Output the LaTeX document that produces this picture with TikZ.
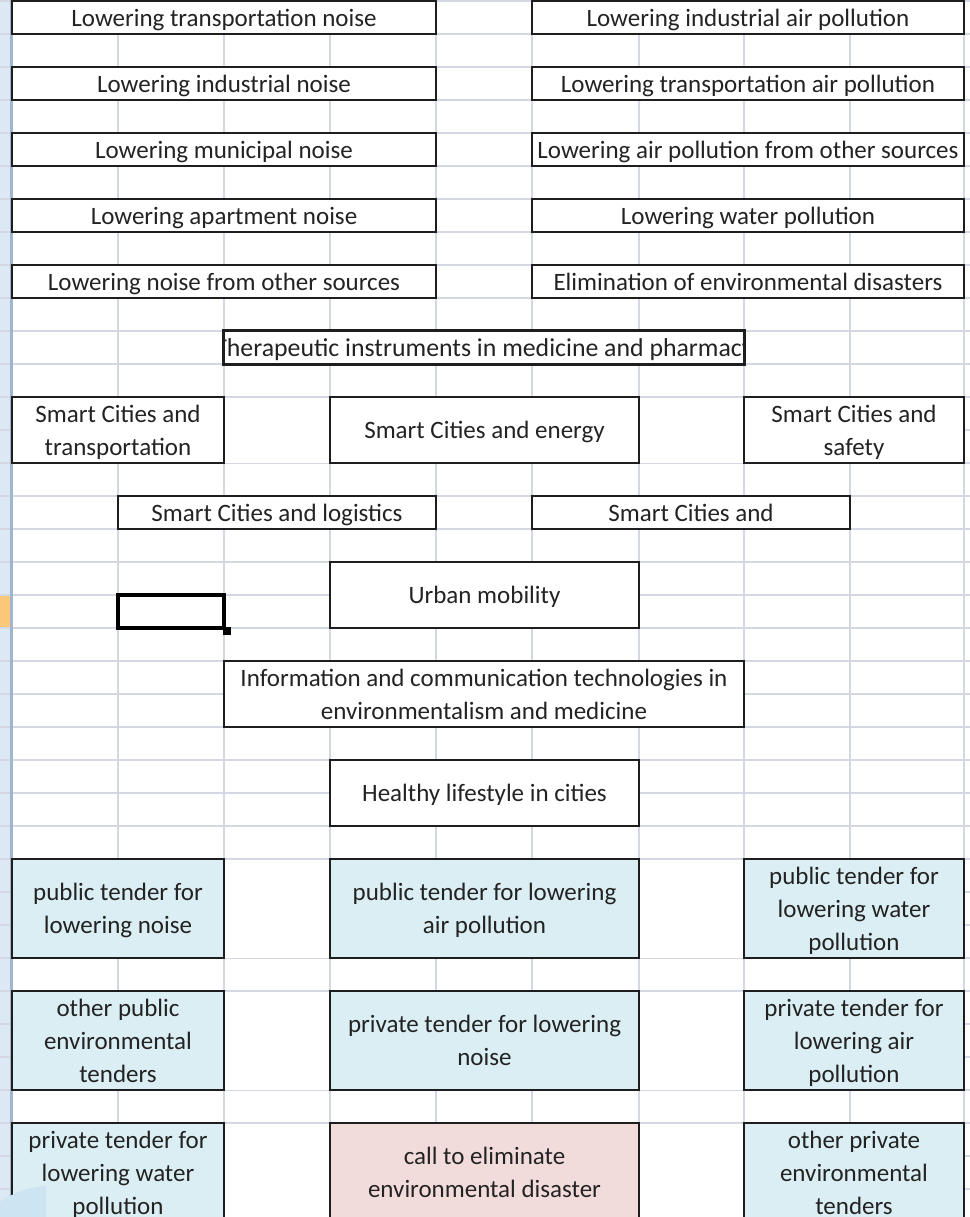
\documentclass[tikz,border=0pt]{standalone}
\usepackage{fontspec}
\setmainfont{Carlito}
\usetikzlibrary{positioning}

\definecolor{gridc}{RGB}{212,216,226}
\definecolor{headc}{RGB}{221,232,245}
\definecolor{headline}{RGB}{158,182,206}
\definecolor{selrow}{RGB}{249,200,120}
\definecolor{edgec}{RGB}{30,30,30}
\definecolor{textc}{RGB}{35,35,35}
\definecolor{tenderc}{RGB}{218,238,243}
\definecolor{callc}{RGB}{242,220,219}
\definecolor{blobc}{RGB}{205,228,243}
\newcommand{\cellfont}{\fontsize{12.5}{16.5}\selectfont}

\begin{document}
\begin{tikzpicture}[x=0.5pt,y=-0.5pt,
    gridline/.style={draw=gridc,line width=0.6pt},
    box/.style={draw=edgec,line width=1pt,fill=white,inner sep=0pt,text depth=0pt,
                align=center,text=textc,font=\cellfont},
    tender/.style={box,fill=tenderc},
    callbox/.style={box,fill=callc},
    selcell/.style={draw=black,line width=2pt,inner sep=0pt}]

    \clip (0,0) rectangle (970,1217);
    \fill[white] (0,0) rectangle (970,1217);

    %row headers at the left
    \fill[headc] (0,0) rectangle (11,1217);
    \fill[selrow] (0,595) rectangle (11,628);

    %sheet grid
    \foreach \cx in {12,118,224,330,436,532,639,744,850,964}
        \draw[gridline] (\cx,0) -- (\cx,1217);
    \foreach \k in {0,...,36}
        \draw[gridline] (0,{1+33*\k}) -- (970,{1+33*\k});
    \draw[headline,line width=1.5pt] (11.5,0) -- (11.5,1217);

    %merged empty cells
    \foreach \ya/\yb in {397/463,859/958,991/1090,1123/1222}{
        \fill[white] (224.5,\ya+0.5) rectangle (329.5,\yb-0.5);
        \fill[white] (639.5,\ya+0.5) rectangle (743.5,\yb-0.5);
    }

    %noise and pollution
    \node[box,minimum width=212pt,minimum height=16.5pt] (noiseT) at (224,17.5) {Lowering transportation noise};
    \node[box,minimum width=216pt,minimum height=16.5pt] (airI) at (748,17.5) {Lowering industrial air pollution};
    \node[box,minimum width=212pt,minimum height=16.5pt] (noiseI) at (224,83.5) {Lowering industrial noise};
    \node[box,minimum width=216pt,minimum height=16.5pt] (airT) at (748,83.5) {Lowering transportation air pollution};
    \node[box,minimum width=212pt,minimum height=16.5pt] (noiseM) at (224,149.5) {Lowering municipal noise};
    \node[box,minimum width=216pt,minimum height=16.5pt] (airO) at (748,149.5) {Lowering air pollution from other sources};
    \node[box,minimum width=212pt,minimum height=16.5pt] (noiseA) at (224,215.5) {Lowering apartment noise};
    \node[box,minimum width=216pt,minimum height=16.5pt] (water) at (748,215.5) {Lowering water pollution};
    \node[box,minimum width=212pt,minimum height=16.5pt] (noiseO) at (224,281.5) {Lowering noise from other sources};
    \node[box,minimum width=216pt,minimum height=16.5pt] (disaster) at (748,281.5) {Elimination of environmental disasters};

    %text cut off by the cell
    \node[box,minimum width=260pt,minimum height=16.5pt] (thera) at (484,347.5) {};
    \begin{scope}
        \clip (thera.north west) rectangle (thera.south east);
        \node[text=textc,font=\fontsize{12.9}{16.5}\selectfont,inner sep=0pt,text depth=0pt] (theraTxt) at (thera.center) {Therapeutic instruments in medicine and pharmacy};
    \end{scope}
    \draw[edgec,line width=1pt] (thera.north west) rectangle (thera.south east);

    %smart cities
    \node[box,minimum width=106pt,minimum height=33pt] (scTrans) at (118,430) {Smart Cities and\\transportation};
    \node[box,minimum width=154.5pt,minimum height=33pt] (scEnergy) at (484.5,430) {Smart Cities and energy};
    \node[box,minimum width=110pt,minimum height=33pt] (scSafety) at (854,430) {Smart Cities and\\safety};
    \node[box,minimum width=159pt,minimum height=16.5pt] (scLogist) at (277,512.5) {Smart Cities and logistics};
    \node[box,minimum width=159pt,minimum height=16.5pt] (scAnd) at (691,512.5) {Smart Cities and};

    \node[box,minimum width=154.5pt,minimum height=33pt] (urban) at (484.5,595) {Urban mobility};
    \node[selcell,minimum width=53pt,minimum height=16.5pt] (sel) at (171,611.5) {};
    \fill[black] ([shift={(-3,-3)}]sel.south east) rectangle ([shift={(5,5)}]sel.south east);

    \node[box,minimum width=260pt,minimum height=33pt] (ict) at (484,694) {Information and communication technologies in\\environmentalism and medicine};
    \node[box,minimum width=154.5pt,minimum height=33pt] (healthy) at (484.5,793) {Healthy lifestyle in cities};

    %tenders
    \node[tender,minimum width=106pt,minimum height=49.5pt] (pubNoise) at (118,908.5) {public tender for\\lowering noise};
    \node[tender,minimum width=154.5pt,minimum height=49.5pt] (pubAir) at (484.5,908.5) {public tender for lowering\\air pollution};
    \node[tender,minimum width=110pt,minimum height=49.5pt] (pubWater) at (854,908.5) {public tender for\\lowering water\\pollution};
    \node[tender,minimum width=106pt,minimum height=49.5pt] (othPub) at (118,1040.5) {other public\\environmental\\tenders};
    \node[tender,minimum width=154.5pt,minimum height=49.5pt] (privNoise) at (484.5,1040.5) {private tender for lowering\\noise};
    \node[tender,minimum width=110pt,minimum height=49.5pt] (privAir) at (854,1040.5) {private tender for\\lowering air\\pollution};
    \node[tender,minimum width=106pt,minimum height=49.5pt] (privWater) at (118,1172.5) {private tender for\\lowering water\\pollution};
    \node[callbox,minimum width=154.5pt,minimum height=49.5pt] (callDis) at (484.5,1172.5) {call to eliminate\\environmental disaster};
    \node[tender,minimum width=110pt,minimum height=49.5pt] (othPriv) at (854,1172.5) {other private\\environmental\\tenders};

    %blue mark in the corner
    \fill[blobc] (0,1202) .. controls (14,1192) and (30,1187) .. (46,1186) -- (46,1217) -- (0,1217) -- cycle;

\end{tikzpicture}
\end{document}
